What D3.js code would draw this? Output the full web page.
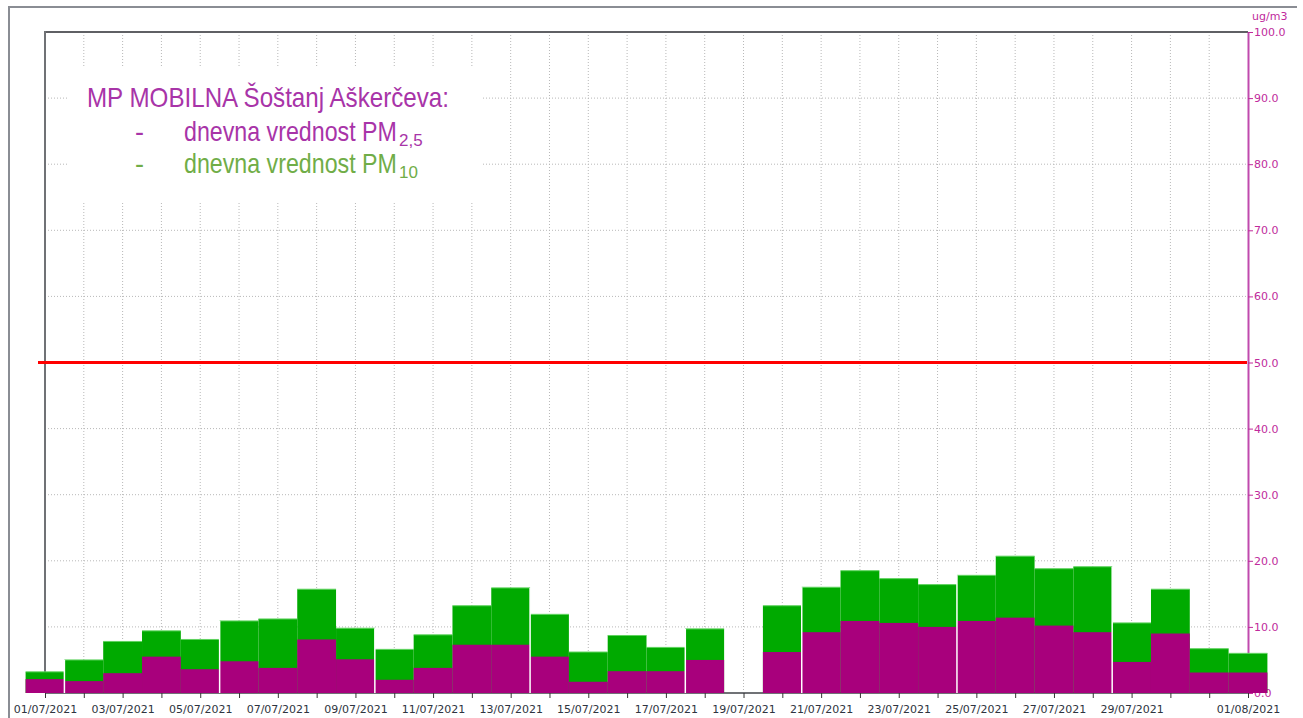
<!DOCTYPE html>
<html>
<head>
<meta charset="utf-8">
<script src="https://cdn.jsdelivr.net/npm/d3@7"></script>
<style>
  html, body { margin: 0; padding: 0; background: #fff; }
  svg { display: block; }
</style>
</head>
<body>
<div id="chart"></div>
<script>
// days shown (one bar per day)
var days = ['2021-07-01','2021-07-02','2021-07-03','2021-07-04','2021-07-05','2021-07-06','2021-07-07','2021-07-08',
            '2021-07-09','2021-07-10','2021-07-11','2021-07-12','2021-07-13','2021-07-14','2021-07-15','2021-07-16',
            '2021-07-17','2021-07-18','2021-07-19','2021-07-20','2021-07-21','2021-07-22','2021-07-23','2021-07-24',
            '2021-07-25','2021-07-26','2021-07-27','2021-07-28','2021-07-29','2021-07-30','2021-07-31','2021-08-01'];
// daily PM10 (green) and PM2.5 (purple), ug/m3
var pm10 = [3.2, 5.0, 7.8, 9.4, 8.1, 10.9, 11.2, 15.7, 9.8, 6.6, 8.8, 13.2, 15.9, 11.9, 6.2, 8.7,
            6.9, 9.7, null, 13.2, 16.0, 18.5, 17.3, 16.4, 17.8, 20.7, 18.8, 19.1, 10.6, 15.7, 6.7, 6.0];
var pm25 = [2.1, 1.8, 3.0, 5.5, 3.6, 4.8, 3.8, 8.1, 5.1, 2.0, 3.8, 7.3, 7.3, 5.5, 1.7, 3.3,
            3.3, 5.0, null, 6.2, 9.2, 10.9, 10.6, 10.0, 10.9, 11.4, 10.2, 9.2, 4.7, 9.0, 3.1, 3.1];
// days after which the series has a break (thin white separator)
var breaksAfter = ['2021-07-01','2021-07-05','2021-07-09','2021-07-13','2021-07-17','2021-07-20','2021-07-24','2021-07-28'];
// labelled ticks on the time axis
var xLabels = ['01/07/2021','03/07/2021','05/07/2021','07/07/2021','09/07/2021','11/07/2021','13/07/2021','15/07/2021',
               '17/07/2021','19/07/2021','21/07/2021','23/07/2021','25/07/2021','27/07/2021','29/07/2021','01/08/2021'];
var yTicks = [0, 10, 20, 30, 40, 50, 60, 70, 80, 90, 100];
var limit = 50;

const W = 1303, H = 718;
const pLeft = 45, pRight = 1248, pTop = 32, pBottom = 693;
const purple = '#a8007c', green = '#00aa00', axisPink = '#c02a9c';
const axisFont = '"DejaVu Sans", Verdana, sans-serif';

var parse = d3.timeParse('%Y-%m-%d');
var fmtDay = d3.timeFormat('%d/%m/%Y');
var fmtIso = d3.timeFormat('%Y-%m-%d');
var dates = days.map(parse);
var half = 12 * 3600 * 1000;

var x = d3.scaleTime()
  .domain([dates[0], dates[dates.length - 1]])
  .range([pLeft, pRight]);
var y = d3.scaleLinear()
  .domain([0, 100])
  .range([pBottom, pTop]);

var svg = d3.select('#chart').append('svg')
  .attr('width', W).attr('height', H)
  .style('font-family', axisFont);

// outer frame
svg.append('line').attr('x1', 9).attr('x2', 9).attr('y1', 6).attr('y2', H)
  .attr('stroke', '#8a8d94').attr('stroke-width', 2);
svg.append('line').attr('x1', 8).attr('x2', 1297).attr('y1', 7).attr('y2', 7)
  .attr('stroke', '#8a8d94').attr('stroke-width', 2);

// grid
var grid = svg.append('g').attr('stroke', '#b8b8b8').attr('stroke-dasharray', '1,2');
grid.selectAll('.vg').data(dates.slice(1, -1)).enter().append('line')
  .attr('x1', d => x(d)).attr('x2', d => x(d))
  .attr('y1', pTop).attr('y2', pBottom);
grid.selectAll('.hg').data(yTicks.slice(1, -1)).enter().append('line')
  .attr('x1', pLeft).attr('x2', pRight)
  .attr('y1', d => y(d)).attr('y2', d => y(d));

// plot frame (top + left) and baseline
svg.append('line').attr('x1', pLeft).attr('x2', pRight).attr('y1', pTop).attr('y2', pTop)
  .attr('stroke', '#5f6064').attr('stroke-width', 2);
svg.append('line').attr('x1', pLeft).attr('x2', pLeft).attr('y1', pTop - 1).attr('y2', pBottom)
  .attr('stroke', '#707276').attr('stroke-width', 2);
svg.append('line').attr('x1', pLeft).attr('x2', pRight).attr('y1', pBottom).attr('y2', pBottom)
  .attr('stroke', '#707276').attr('stroke-width', 2);

// right axis
var yAxis = d3.axisRight(y).tickValues(yTicks).tickFormat(d3.format('.1f'))
  .tickSizeInner(5).tickSizeOuter(0).tickPadding(1);
var ya = svg.append('g').attr('transform', `translate(${pRight},0)`).call(yAxis)
  .attr('font-family', null).style('font-family', axisFont);
ya.select('.domain').attr('stroke', '#c04aae').attr('stroke-width', 2);
ya.selectAll('.tick line').attr('stroke', axisPink);
ya.selectAll('.tick text').attr('fill', axisPink).style('font-size', '11px');
svg.append('text').attr('x', 1252).attr('y', 20).text('ug/m3')
  .attr('fill', axisPink).style('font-size', '11px');

// bottom axis
var xAxis = d3.axisBottom(x).tickValues(dates)
  .tickFormat(d => xLabels.indexOf(fmtDay(d)) >= 0 ? fmtDay(d) : '')
  .tickSizeInner(5).tickSizeOuter(0).tickPadding(7);
var xa = svg.append('g').attr('transform', `translate(0,${pBottom})`).call(xAxis)
  .attr('font-family', null).style('font-family', axisFont);
xa.select('.domain').remove();
xa.selectAll('.tick line').attr('stroke', '#333');
xa.selectAll('.tick text').attr('fill', '#2e3440').style('font-size', '11px');

// limit line
svg.append('line').attr('x1', 38).attr('x2', pRight - 1)
  .attr('y1', y(limit)).attr('y2', y(limit))
  .attr('stroke', '#ff0000').attr('stroke-width', 3);

// bars
var rows = dates.map((d, i) => ({ d: d, pm10: pm10[i], pm25: pm25[i] }))
  .filter(r => r.pm10 != null);
var x0 = r => x(new Date(+r.d - half));
var x1 = r => x(new Date(+r.d + half));
var bars = svg.append('g');
bars.selectAll('.g10').data(rows).enter().append('rect')
  .attr('x', x0)
  .attr('width', r => x1(r) - x0(r))
  .attr('y', r => y(r.pm10))
  .attr('height', r => y(0) - y(r.pm10))
  .attr('fill', green);
bars.selectAll('.g10t').data(rows).enter().append('line')
  .attr('x1', x0).attr('x2', x1)
  .attr('y1', r => y(r.pm10)).attr('y2', r => y(r.pm10))
  .attr('stroke', '#5fd35f').attr('stroke-width', 1);
bars.selectAll('.g25').data(rows).enter().append('rect')
  .attr('x', x0)
  .attr('width', r => x1(r) - x0(r))
  .attr('y', r => y(r.pm25))
  .attr('height', r => y(0) - y(r.pm25))
  .attr('fill', purple);

// series breaks
bars.selectAll('.brk').data(breaksAfter.map(parse)).enter().append('line')
  .attr('x1', d => x(new Date(+d + half))).attr('x2', d => x(new Date(+d + half)))
  .attr('y1', d => {
    var i = days.indexOf(fmtIso(d));
    var a = pm10[i] || 0, b = pm10[i + 1] || 0;
    return y(Math.max(a, b));
  })
  .attr('y2', pBottom)
  .attr('stroke', '#ffffff').attr('stroke-width', 1.5);

// legend (condensed text: squeeze each line to the width seen in the picture)
svg.append('rect').attr('x', 67).attr('y', 68).attr('width', 416).attr('height', 134).attr('fill', '#fff');
var lg = svg.append('g').style('font-family', '"Liberation Sans Narrow", "Liberation Sans", Arial, sans-serif')
  .style('font-size', '27px');
var legendPurple = '#a834a8', legendGreen = '#70ad47';

function narrowText(tx, ty, width, colour, str) {
  var g = lg.append('g');
  var t = g.append('text').attr('fill', colour).text(str);
  var k = width / t.node().getComputedTextLength();
  g.attr('transform', `translate(${tx},${ty}) scale(${k},1)`);
  return g;
}
narrowText(87, 107, 362, legendPurple, 'MP MOBILNA Šoštanj Aškerčeva:');
lg.append('text').attr('x', 135).attr('y', 141).attr('fill', legendPurple).text('-');
narrowText(184, 141, 213, legendPurple, 'dnevna vrednost PM');
lg.append('text').attr('x', 399).attr('y', 146).attr('fill', legendPurple)
  .style('font-size', '17px').text('2,5');
lg.append('text').attr('x', 135).attr('y', 173).attr('fill', legendGreen).text('-');
narrowText(184, 173, 213, legendGreen, 'dnevna vrednost PM');
lg.append('text').attr('x', 399).attr('y', 178).attr('fill', legendGreen)
  .style('font-size', '17px').text('10');
</script>
</body>
</html>
